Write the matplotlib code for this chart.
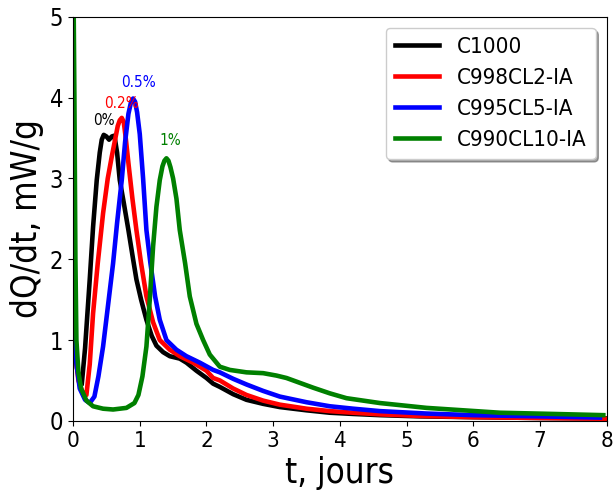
import numpy as np
import matplotlib.pyplot as plt

plt.rcParams['font.family'] = 'DejaVu Sans'
plt.rcParams['font.stretch'] = 'condensed'

# C1000
t_c1000 = [0.0, 0.02, 0.06, 0.1, 0.13, 0.18, 0.25, 0.3, 0.355, 0.4, 0.43, 0.46, 0.5, 0.54, 0.58, 0.62,
           0.66, 0.7, 0.76, 0.83, 0.9, 0.95, 1.02, 1.1, 1.18, 1.25, 1.35, 1.45, 1.6, 1.7, 1.85,
           2.0, 2.1, 2.2, 2.4, 2.6, 2.85, 3.1, 3.5, 3.85, 4.2, 4.6, 5.2, 6.0, 7.0, 8.0]
q_c1000 = [1.6, 1.1, 0.65, 0.5, 0.45, 0.9, 1.75, 2.4, 2.98, 3.32, 3.48, 3.54, 3.52, 3.48, 3.52, 3.53,
           3.32, 2.98, 2.7, 2.36, 2.0, 1.75, 1.5, 1.25, 1.05, 0.93, 0.85, 0.8, 0.77, 0.72, 0.62,
           0.53, 0.46, 0.42, 0.33, 0.26, 0.21, 0.17, 0.13, 0.10, 0.085, 0.07, 0.055, 0.045, 0.035, 0.03]

# C998CL2-IA
t_c998 = [0.0, 0.02, 0.08, 0.14, 0.2, 0.25, 0.3, 0.37, 0.45, 0.52, 0.58, 0.63, 0.67, 0.7, 0.73, 0.76,
          0.79, 0.83, 0.89, 0.95, 1.02, 1.1, 1.2, 1.3, 1.45, 1.6, 1.8, 2.0, 2.1, 2.2, 2.4, 2.6, 2.85,
          3.1, 3.5, 3.85, 4.2, 4.6, 5.2, 6.0, 7.0, 8.0]
q_c998 = [1.3, 0.95, 0.5, 0.36, 0.32, 0.7, 1.33, 1.95, 2.57, 3.0, 3.27, 3.48, 3.65, 3.72, 3.75, 3.7,
          3.5, 3.19, 2.75, 2.36, 1.95, 1.54, 1.22, 1.0, 0.88, 0.8, 0.72, 0.62, 0.53, 0.5, 0.4, 0.32, 0.25,
          0.2, 0.15, 0.12, 0.1, 0.08, 0.06, 0.045, 0.035, 0.025]

# C995CL5-IA
t_c995 = [0.0, 0.02, 0.1, 0.18, 0.25, 0.32, 0.38, 0.45, 0.52, 0.6, 0.66, 0.73, 0.78, 0.83, 0.87,
          0.9, 0.93, 0.96, 1.0, 1.05, 1.1, 1.16, 1.23, 1.3, 1.4, 1.55, 1.7, 1.9, 2.1, 2.2, 2.4, 2.6,
          2.85, 3.1, 3.5, 3.85, 4.2, 4.6, 5.3, 6.0, 7.0, 7.9]
q_c995 = [1.2, 0.9, 0.4, 0.26, 0.22, 0.3, 0.55, 0.92, 1.4, 1.95, 2.45, 2.98, 3.45, 3.8, 3.95,
          3.99, 3.95, 3.82, 3.55, 3.0, 2.36, 1.95, 1.54, 1.25, 1.0, 0.88, 0.8, 0.72, 0.63, 0.6, 0.52, 0.45,
          0.37, 0.3, 0.23, 0.18, 0.15, 0.12, 0.09, 0.07, 0.055, 0.04]

# C990CL10-IA
t_c990 = [0.0, 0.02, 0.035, 0.05, 0.08, 0.12, 0.2, 0.3, 0.45, 0.6, 0.8, 0.92, 0.98, 1.04, 1.1,
          1.15, 1.2, 1.25, 1.3, 1.34, 1.37, 1.4, 1.43, 1.46, 1.5, 1.55, 1.6, 1.68, 1.75, 1.85, 1.95, 2.05,
          2.2, 2.35, 2.6, 2.85, 3.05, 3.2, 3.4, 3.6, 3.85, 4.1, 4.6, 5.3, 6.4, 7.2, 7.95]
q_c990 = [6.0, 4.0, 2.0, 1.0, 0.6, 0.4, 0.25, 0.18, 0.15, 0.14, 0.16, 0.22, 0.32, 0.55, 0.92,
          1.5, 2.16, 2.65, 2.98, 3.15, 3.22, 3.25, 3.22, 3.14, 3.0, 2.75, 2.36, 1.95, 1.54, 1.2, 1.0, 0.82,
          0.67, 0.63, 0.6, 0.59, 0.56, 0.53, 0.47, 0.41, 0.34, 0.28, 0.22, 0.16, 0.1, 0.085, 0.07]

labels = ['C1000', 'C998CL2-IA', 'C995CL5-IA', 'C990CL10-IA']
colors = ['black', 'red', 'blue', 'green']
notes = ['0%', '0.2%', '0.5%', '1%']
note_xy = [(0.46, 3.62), (0.73, 3.84), (0.98, 4.09), (1.46, 3.38)]

fig = plt.figure(figsize=(6.14, 4.98), dpi=100)
ax = fig.add_axes([0.119, 0.155, 0.869, 0.811])

ts = [t_c1000, t_c998, t_c995, t_c990]
qs = [q_c1000, q_c998, q_c995, q_c990]
for i in range(4):
    ax.plot(ts[i], qs[i], color=colors[i], lw=3.3, label=labels[i])
for i in range(4):
    ax.text(note_xy[i][0], note_xy[i][1], notes[i], color=colors[i], fontsize=11,
            ha='center', va='bottom')

ax.set_xlim(0, 8)
ax.set_ylim(0, 5)
ax.set_xticks(range(9))
ax.set_yticks(range(6))
ax.tick_params(axis='x', labelsize=16)
ax.tick_params(axis='y', labelsize=17)
ax.set_xlabel('t, jours', fontsize=25)
ax.set_ylabel('dQ/dt, mW/g', fontsize=25)
ax.legend(loc='upper right', fontsize=16, shadow=True, fancybox=True)

plt.savefig('out.png', dpi=100)
